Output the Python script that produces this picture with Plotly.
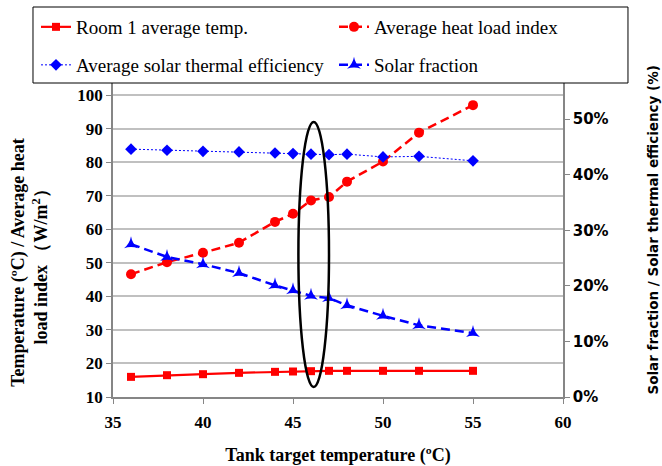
import plotly.graph_objects as go

# ---- data ----
tank_temp = [36, 38, 40, 42, 44, 45, 46, 47, 48, 50, 52, 55]
room_temp = [16.0, 16.5, 16.8, 17.2, 17.5, 17.6, 17.7, 17.8, 17.8, 17.8, 17.8, 17.8]
heat_load = [46.6, 50.2, 53.0, 56.0, 62.2, 64.6, 68.6, 69.6, 74.2, 80.2, 88.8, 97.0]
solar_eff = [0.446, 0.444, 0.442, 0.441, 0.439, 0.438, 0.437, 0.436, 0.437, 0.432, 0.433, 0.425]
solar_frac = [0.275, 0.252, 0.239, 0.223, 0.201, 0.192, 0.182, 0.178, 0.165, 0.146, 0.129, 0.115]

x_ticks = [35, 40, 45, 50, 55, 60]
y_ticks = [10, 20, 30, 40, 50, 60, 70, 80, 90, 100]
y2_ticks = [0, 0.1, 0.2, 0.3, 0.4, 0.5]

# highlighted region (ellipse)
ell_x = [45.3, 47.0]
ell_y = [13, 92]

SERIF = "Liberation Serif"
SANS = "DejaVu Sans"
RED = "#FF0000"
BLUE = "#0000FF"
AXC = "#868686"

fig = go.Figure()
fig.add_trace(go.Scatter(x=tank_temp, y=room_temp, name="Room 1 average temp.",
                         mode="lines+markers", line=dict(color=RED, width=2.2),
                         marker=dict(symbol="square", size=8, color=RED), legend="legend"))
fig.add_trace(go.Scatter(x=tank_temp, y=heat_load, name="Average heat load index",
                         mode="lines+markers", line=dict(color=RED, width=2.5, dash="9px,5px"),
                         marker=dict(symbol="circle", size=10, color=RED), legend="legend2"))
fig.add_trace(go.Scatter(x=tank_temp, y=solar_eff, name="Average solar thermal efficiency",
                         mode="lines+markers", yaxis="y2",
                         line=dict(color=BLUE, width=1, dash="2px,2px"),
                         marker=dict(symbol="diamond", size=9, color=BLUE), legend="legend3"))
fig.add_trace(go.Scatter(x=tank_temp, y=solar_frac, name="Solar fraction",
                         mode="lines+markers", yaxis="y2",
                         line=dict(color=BLUE, width=2.5, dash="9px,5px"),
                         marker=dict(symbol="star-triangle-up", size=10, color=BLUE), legend="legend4"))

tickfont = dict(family=SERIF, size=17, color="black", weight="bold")

legend_common = dict(orientation="v", xref="container", xanchor="left",
                     yref="container", yanchor="middle", bgcolor="rgba(0,0,0,0)", borderwidth=0,
                     font=dict(family=SERIF, size=19, color="black"), itemwidth=30)
col1, col2 = 36 / 662, 334 / 662
row1, row2 = 1 - 27 / 466, 1 - 65 / 466

fig.update_layout(
    width=662, height=466,
    margin=dict(l=113, r=99, t=83, b=69, autoexpand=False),
    paper_bgcolor="white", plot_bgcolor="white",
    showlegend=True,
    xaxis=dict(range=[35, 60], tickvals=x_ticks, ticks="outside", ticklen=5,
               tickcolor=AXC, showline=True, linecolor=AXC, linewidth=1.5,
               showgrid=False, zeroline=False, tickfont=tickfont, ticklabelstandoff=4,
               title=dict(text="Tank target temperature (ºC)", standoff=18,
                          font=dict(family=SERIF, size=18, color="black", weight="bold"))),
    yaxis=dict(range=[10, 103.6], tickvals=y_ticks, ticks="outside", ticklen=5,
               tickcolor=AXC, showline=True, linecolor=AXC, linewidth=1.5,
               showgrid=True, gridcolor="#c0c0c0", gridwidth=1.5, zeroline=False,
               tickfont=tickfont),
    yaxis2=dict(range=[0, 0.565], tickvals=y2_ticks, tickformat=".0%", overlaying="y",
                side="right", ticks="outside", ticklen=5, tickcolor=AXC,
                showline=True, linecolor=AXC, linewidth=1.5, showgrid=False,
                zeroline=False,
                tickfont=dict(family=SANS, size=15, color="black", weight="bold")),
    legend=dict(legend_common, x=col1, y=row1),
    legend2=dict(legend_common, x=col2, y=row1),
    legend3=dict(legend_common, x=col1, y=row2),
    legend4=dict(legend_common, x=col2, y=row2),
    shapes=[
        dict(type="rect", xref="paper", yref="paper", x0=-0.1778, x1=1.1444, y0=1.0, y1=1.242,
             fillcolor="white", line=dict(color="black", width=1), layer="above"),
        dict(type="circle", xref="x", yref="y", x0=ell_x[0], x1=ell_x[1], y0=ell_y[0], y1=ell_y[1],
             line=dict(color="black", width=2.5), layer="above"),
    ],
    annotations=[
        dict(text="Temperature (ºC) / Average heat<br>load index （W/m<sup>2</sup>）",
             xref="paper", yref="paper", x=-0.185, y=0.43, xanchor="center", yanchor="middle",
             textangle=-90, showarrow=False,
             font=dict(family=SERIF, size=18, color="black", weight="bold")),
        dict(text="Solar fraction / Solar thermal efficiency (%)",
             xref="paper", yref="paper", x=1.2, y=0.53, xanchor="center", yanchor="middle",
             textangle=-90, showarrow=False,
             font=dict(family=SANS, size=13.5, color="black", weight="bold")),
    ],
)

fig.write_html("out.html")
